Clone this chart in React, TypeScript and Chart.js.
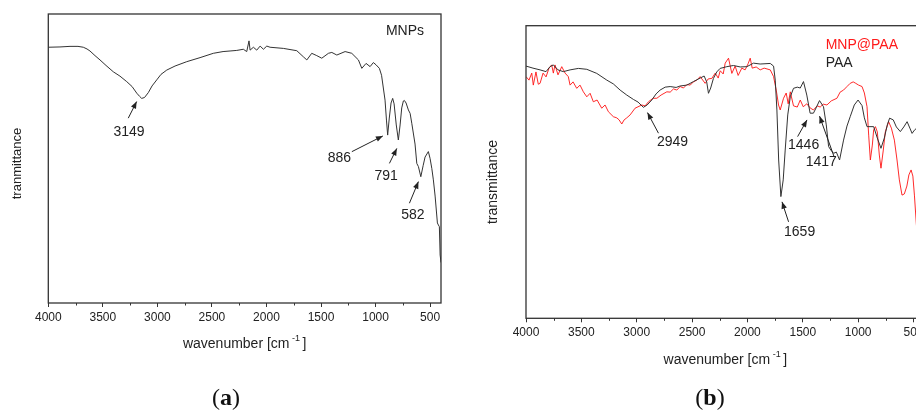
import { useEffect, useRef } from 'react';
import { Chart, registerables } from 'chart.js';

Chart.register(...registerables);

// ---------- DATA ----------
const mnpWavenumber = [4000,3893,3801,3728,3679,3645,3618,3572,3526,3471,3404,3343,3281,3232,3189,3163,3144,3118,3083,3049,3006,2967,2914,2838,2731,2609,2487,2398,2334,2272,2212,2181,2160,2150,2120,2089,2058,2028,1997,1967,1845,1722,1662,1630,1585,1539,1493,1432,1401,1355,1279,1218,1157,1126,1087,1050,1020,995,965,945,913,900,889,874,858,843,830,810,791,775,760,745,736,720,699,683,668,638,622,607,585,564,546,516,500,484,470,454,433,424,415,408,400];
const mnpTransmittance = [88.5,88.6,88.8,88.8,88.5,87.9,87.2,85.6,84.1,82.2,80.0,78.5,76.6,74.9,72.6,71.5,70.8,71.1,72.8,75.1,77.2,79.1,80.6,82.0,83.5,84.9,86.4,87.0,87.2,87.4,87.8,87.0,90.7,87.5,88.5,87.5,88.9,87.8,88.9,88.5,88.1,87.3,85.2,84.1,86.4,85.6,84.7,86.4,86.7,85.8,87.0,86.4,84.1,81.2,82.9,81.8,83.2,82.4,81.2,78.8,70.2,63.3,58.1,64.0,69.2,70.8,68.9,61.6,56.4,61.6,67.5,69.9,70.1,69.2,66.8,65.6,62.2,55.0,48.3,47.2,43.7,47.5,50.5,52.4,50.0,46.5,42.6,37.0,27.7,27.0,26.4,16.6,14.0];

const paaWavenumber = [4000,3937,3873,3819,3783,3753,3711,3663,3602,3527,3451,3361,3270,3211,3150,3090,3030,2988,2940,2906,2864,2825,2789,2743,2698,2644,2608,2547,2488,2427,2391,2368,2352,2332,2307,2277,2247,2186,2126,2065,2005,1945,1885,1794,1764,1749,1734,1718,1698,1677,1659,1636,1613,1584,1550,1523,1494,1464,1434,1404,1380,1349,1313,1288,1267,1247,1222,1197,1168,1132,1101,1072,1035,1001,965,944,920,860,827,794,764,737,716,683,655,619,588,558,533,513,492,474,440,400];
const paaTransmittance = [86.2,85.5,84.9,84.3,86.0,86.6,84.9,84.3,84.9,85.4,85.1,83.7,81.4,80.1,78.0,76.3,74.8,73.9,72.1,72.9,74.6,76.7,78.0,79.0,79.2,78.9,79.4,79.7,80.9,82.1,82.8,80.8,76.9,78.7,82.0,84.2,85.4,86.0,86.4,85.9,86.0,87.2,86.9,87.1,86.2,81.4,71.2,54.1,41.6,47.3,57.5,69.5,75.7,78.6,79.0,78.7,80.9,76.3,70.1,70.1,71.9,74.4,72.3,66.1,58.7,57.5,56.4,56.8,54.1,60.9,65.7,68.9,72.9,74.6,72.7,68.5,65.5,65.5,61.6,58.1,61.6,66.1,68.4,67.8,65.4,63.8,65.4,67.2,65.0,63.2,64.3,64.9,62.0,60.0];

const mnpPaaWavenumber = [4000,3973,3948,3934,3910,3889,3873,3846,3819,3792,3768,3753,3738,3711,3677,3647,3618,3602,3575,3542,3512,3482,3451,3421,3392,3358,3316,3286,3256,3211,3180,3159,3135,3114,3090,3060,3015,2954,2924,2894,2852,2818,2780,2728,2698,2668,2638,2608,2578,2547,2517,2488,2457,2427,2382,2355,2321,2291,2264,2246,2219,2201,2171,2141,2111,2084,2051,2021,1994,1975,1957,1921,1885,1849,1794,1764,1740,1719,1704,1674,1650,1632,1613,1584,1550,1523,1496,1464,1434,1404,1370,1343,1316,1282,1243,1192,1163,1132,1101,1072,1045,1026,996,965,944,920,905,890,872,860,844,827,809,794,773,755,725,700,673,649,628,604,583,560,542,522,506,492,474,450,420,400];
const mnpPaaTransmittance = [82.6,81.4,83.8,79.7,84.2,80.0,80.3,83.8,82.5,85.5,86.6,83.8,86.6,83.2,86.0,83.8,82.6,79.7,80.8,78.6,79.7,77.4,75.7,76.9,74.0,74.6,71.8,72.9,70.6,68.9,68.5,67.8,66.4,67.8,68.5,69.5,71.8,72.9,72.6,74.0,75.2,75.2,76.3,77.4,77.3,78.4,78.0,79.2,78.7,79.9,79.7,80.8,81.4,82.6,80.3,81.8,82.0,83.8,82.1,84.6,83.5,87.2,88.9,83.7,86.2,83.0,85.5,84.9,87.0,88.9,85.5,85.9,84.9,85.5,84.9,82.6,78.0,72.9,71.2,75.2,77.0,73.3,77.4,72.6,72.2,74.6,72.3,73.3,71.9,71.2,72.6,72.2,73.2,72.9,74.3,75.2,77.3,78.0,79.2,80.3,80.8,80.4,79.7,79.2,77.0,72.3,62.6,54.1,59.2,64.4,65.5,63.7,55.8,51.3,57.5,63.7,67.2,65.0,60.9,54.1,47.3,42.1,42.5,45.2,49.0,50.7,48.6,42.1,31.9,24.0,18.0,15.0];

const majorTicks = [500,1000,1500,2000,2500,3000,3500,4000];
const minorTicks = [750,1250,1750,2250,2750,3250,3750];

const panelALabels = ['3149','886','791','582'];
const panelAArrowX = [3190,933,805,607];
const panelAArrowY = [69.7,57.8,53.5,42.0];

const panelBLabels = ['2949','1659','1446','1417'];
const panelBArrowX = [2903,1688,1462,1349];
const panelBArrowY = [70.3,39.8,67.8,69.1];

// ---------- STYLE ----------
const FONT = "'Liberation Sans', Arial, Helvetica, sans-serif";
const panelATail = [[-8.4,16.6],[-31,15.7],[-7.4,15],[-9,21.6]];
const panelAText = [[-7.7,30.3],[-43.4,22.3],[-10.7,27.7],[-5.6,33.3]];
const panelBTail = [[11,20.6],[6.6,20],[-9.4,16.7],[14.7,41]];
const panelBText = [[25,30],[17.6,30],[-3.4,25.7],[1.7,46.3]];

function drawArrow(ctx: CanvasRenderingContext2D, x1: number, y1: number, x2: number, y2: number) {
  ctx.beginPath();
  ctx.moveTo(x1, y1);
  ctx.lineTo(x2, y2);
  ctx.stroke();
  const ang = Math.atan2(y2 - y1, x2 - x1);
  const L = 7, W = 2.8;
  ctx.beginPath();
  ctx.moveTo(x2, y2);
  ctx.lineTo(x2 - L * Math.cos(ang) + W * Math.sin(ang), y2 - L * Math.sin(ang) - W * Math.cos(ang));
  ctx.lineTo(x2 - L * Math.cos(ang) - W * Math.sin(ang), y2 - L * Math.sin(ang) + W * Math.cos(ang));
  ctx.closePath();
  ctx.fill();
}

type OverlayCfg = {
  labels: string[];
  ax: number[];
  ay: number[];
  tails: number[][];
  texts: number[][];
  yTitle: string;
  yTitleDx: number;
  yTitleDy: number;
  yTitleSize: number;
  xTitleDy: number;
  legend: { text: string; color: string; dx: number; dy: number; align: CanvasTextAlign }[];
};

function overlayPlugin(cfg: OverlayCfg) {
  return {
    id: 'panelOverlay',
    afterDraw(chart: any) {
      const ctx: CanvasRenderingContext2D = chart.ctx;
      const { left, right, top, bottom } = chart.chartArea;
      const xs = chart.scales.x;
      const ys = chart.scales.y;
      ctx.save();
      // frame
      ctx.strokeStyle = '#333';
      ctx.lineWidth = 1.3;
      ctx.strokeRect(left, top, right - left, bottom - top);
      // minor ticks
      ctx.lineWidth = 1;
      ctx.beginPath();
      minorTicks.forEach((v) => {
        const x = Math.round(xs.getPixelForValue(v)) + 0.5;
        ctx.moveTo(x, bottom);
        ctx.lineTo(x, bottom + 2.5);
      });
      ctx.stroke();
      // annotations
      ctx.strokeStyle = '#222';
      ctx.fillStyle = '#222';
      ctx.lineWidth = 1;
      ctx.font = `14px ${FONT}`;
      ctx.textAlign = 'center';
      ctx.textBaseline = 'middle';
      cfg.labels.forEach((lab, i) => {
        const hx = xs.getPixelForValue(cfg.ax[i]);
        const hy = ys.getPixelForValue(cfg.ay[i]);
        drawArrow(ctx, hx + cfg.tails[i][0], hy + cfg.tails[i][1], hx, hy);
        ctx.fillText(lab, hx + cfg.texts[i][0], hy + cfg.texts[i][1]);
      });
      // legend / panel labels
      cfg.legend.forEach((l) => {
        ctx.fillStyle = l.color;
        ctx.textAlign = l.align;
        ctx.fillText(l.text, (l.align === 'left' ? left : right) + l.dx, top + l.dy);
      });
      // x title with superscript
      ctx.fillStyle = '#222';
      ctx.textAlign = 'left';
      ctx.textBaseline = 'alphabetic';
      const main = 'wavenumber [cm';
      ctx.font = `14px ${FONT}`;
      const w1 = ctx.measureText(main).width;
      const w3 = ctx.measureText(']').width;
      ctx.font = `9px ${FONT}`;
      const sup = ' -1 ';
      const w2 = ctx.measureText(sup).width;
      const total = w1 + w2 + w3;
      const cx = (left + right) / 2;
      const by = bottom + cfg.xTitleDy;
      let x0 = cx - total / 2;
      ctx.font = `14px ${FONT}`;
      ctx.fillText(main, x0, by);
      ctx.font = `9px ${FONT}`;
      ctx.fillText(sup, x0 + w1, by - 7);
      ctx.font = `14px ${FONT}`;
      ctx.fillText(']', x0 + w1 + w2, by);
      // y title
      ctx.save();
      ctx.translate(left + cfg.yTitleDx, (top + bottom) / 2 + cfg.yTitleDy);
      ctx.rotate(-Math.PI / 2);
      ctx.font = `${cfg.yTitleSize}px ${FONT}`;
      ctx.textAlign = 'center';
      ctx.textBaseline = 'middle';
      ctx.fillText(cfg.yTitle, 0, 0);
      ctx.restore();
      ctx.restore();
    },
  };
}

function makeOptions(padding: any, axisHeight: number) {
  return {
    responsive: false,
    animation: false as const,
    devicePixelRatio: 1,
    layout: { padding },
    plugins: { legend: { display: false }, tooltip: { enabled: false } },
    elements: { point: { radius: 0 }, line: { tension: 0 } },
    scales: {
      x: {
        type: 'linear' as const,
        min: 400,
        max: 4000,
        reverse: true,
        afterBuildTicks: (s: any) => {
          s.ticks = majorTicks.map((v) => ({ value: v }));
        },
        afterFit: (s: any) => {
          s.height = axisHeight;
        },
        ticks: {
          color: '#222',
          font: { family: FONT, size: 12 },
          padding: 3,
          maxRotation: 0,
          autoSkip: false,
          callback: (v: any) => String(v),
        },
        grid: { display: true, drawOnChartArea: false, drawTicks: true, tickLength: 4, color: '#333', lineWidth: 1 },
        border: { display: false },
      },
      y: { display: false, min: 0, max: 100 },
    },
  };
}

const toPoints = (xs: number[], ys: number[]) => xs.map((x, i) => ({ x, y: ys[i] }));

export default function App() {
  const aRef = useRef<HTMLCanvasElement>(null);
  const bRef = useRef<HTMLCanvasElement>(null);

  useEffect(() => {
    const chartA = new Chart(aRef.current as HTMLCanvasElement, {
      type: 'scatter',
      data: {
        datasets: [
          {
            label: 'MNPs',
            data: toPoints(mnpWavenumber, mnpTransmittance),
            showLine: true,
            borderColor: '#333',
            borderWidth: 1,
            pointRadius: 0,
          },
        ],
      },
      options: makeOptions({ left: 48.3, top: 14, right: 19, bottom: 0 }, 109) as any,
      plugins: [
        overlayPlugin({
          labels: panelALabels,
          ax: panelAArrowX,
          ay: panelAArrowY,
          tails: panelATail,
          texts: panelAText,
          yTitle: 'tranmittance',
          yTitleDx: -31.3,
          yTitleDy: 5,
          yTitleSize: 13,
          xTitleDy: 45,
          legend: [{ text: 'MNPs', color: '#222', dx: -36, dy: 16.7, align: 'center' }],
        }) as any,
      ],
    });

    const chartB = new Chart(bRef.current as HTMLCanvasElement, {
      type: 'scatter',
      data: {
        datasets: [
          {
            label: 'PAA',
            data: toPoints(paaWavenumber, paaTransmittance),
            showLine: true,
            borderColor: '#333',
            borderWidth: 1,
            pointRadius: 0,
          },
          {
            label: 'MNP@PAA',
            data: toPoints(mnpPaaWavenumber, mnpPaaTransmittance),
            showLine: true,
            borderColor: 'rgba(255,20,20,0.9)',
            borderWidth: 1,
            pointRadius: 0,
          },
        ],
      },
      options: makeOptions({ left: 66, top: 25.7, right: 15.4, bottom: 0 }, 93.7) as any,
      plugins: [
        overlayPlugin({
          labels: panelBLabels,
          ax: panelBArrowX,
          ay: panelBArrowY,
          tails: panelBTail,
          texts: panelBText,
          yTitle: 'transmittance',
          yTitleDx: -32.5,
          yTitleDy: 10,
          yTitleSize: 14,
          xTitleDy: 46,
          legend: [
            { text: 'MNP@PAA', color: '#ff1a1a', dx: 299.7, dy: 19.3, align: 'left' },
            { text: 'PAA', color: '#222', dx: 299.7, dy: 37, align: 'left' },
          ],
        }) as any,
      ],
    });

    return () => {
      chartA.destroy();
      chartB.destroy();
    };
  }, []);

  const capStyle: any = {
    position: 'absolute',
    width: 100,
    textAlign: 'center',
    fontFamily: "'Liberation Serif', 'DejaVu Serif', serif",
    fontSize: 24,
    lineHeight: '28px',
    color: '#111',
  };

  return (
    <div style={{ position: 'fixed', left: 0, top: 0, width: 916, height: 412, overflow: 'hidden', background: '#fff' }}>
      <canvas ref={aRef} width={460} height={412} style={{ position: 'absolute', left: 0, top: 0, width: 460, height: 412 }} />
      <canvas ref={bRef} width={480} height={412} style={{ position: 'absolute', left: 460, top: 0, width: 480, height: 412 }} />
      <div style={{ ...capStyle, left: 176, top: 383 }}>
        (<b>a</b>)
      </div>
      <div style={{ ...capStyle, left: 660, top: 383 }}>
        (<b>b</b>)
      </div>
    </div>
  );
}
